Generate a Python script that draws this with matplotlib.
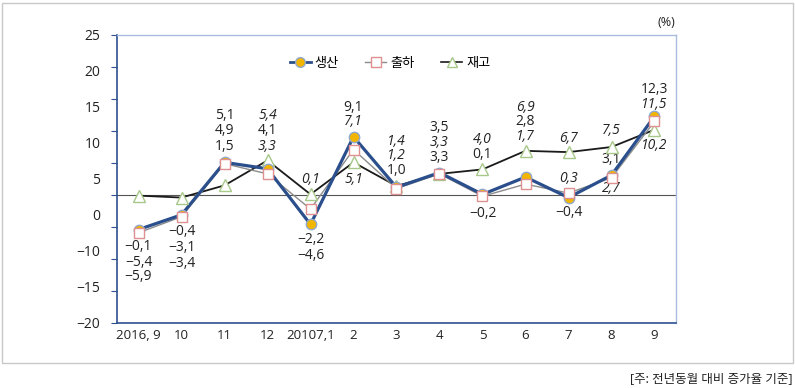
import numpy as np
import matplotlib.pyplot as plt
from matplotlib.patches import Rectangle

plt.rcParams['font.family'] = ['Open Sans', 'Noto Sans CJK KR', 'DejaVu Sans']
plt.rcParams['font.size'] = 9.5

months = ['2016, 9', '10', '11', '12', '20107,1', '2', '3', '4', '5', '6', '7', '8', '9']
series_names = ['생산', '출하', '재고']

prod = [-5.4, -3.1, 5.1, 4.1, -4.6, 9.1, 1.2, 3.5, 0.1, 2.8, -0.4, 3.1, 12.3]
ship = [-5.9, -3.4, 4.9, 3.3, -2.2, 7.1, 1.0, 3.3, -0.2, 1.7, 0.3, 2.7, 11.5]
inv = [-0.1, -0.4, 1.5, 5.4, 0.1, 5.1, 1.4, 3.3, 4.0, 6.9, 6.7, 7.5, 10.2]

# where each value label sits (data units) and whether it is italic
prod_lab_y = [-10.5, -8.2, 12.4, 10.0, -9.4, 13.7, 6.1, 10.5, 6.3, 11.5, -2.7, 5.6, 16.5]
ship_lab_y = [-12.8, -10.7, 10.0, 7.6, -6.9, 11.5, 3.75, 5.85, -2.9, 9.1, 2.6, 1.0, 14.2]
inv_lab_y = [-8.0, -5.7, 7.6, 12.4, 2.35, 2.45, 8.35, 8.2, 8.7, 13.7, 8.8, 10.0, 7.8]
prod_ital = [0, 0, 0, 0, 0, 0, 1, 0, 0, 0, 0, 0, 0]
ship_ital = [0, 0, 0, 1, 0, 1, 0, 0, 0, 1, 1, 1, 1]
inv_ital = [0, 0, 0, 1, 1, 1, 1, 1, 1, 1, 1, 1, 1]

y_labels = ['25', '20', '15', '10', '5', '0', '−10', '−15', '−20']


def fmt(v):
    return f'{v:.1f}'.replace('.', ',').replace('-', '−')


fig = plt.figure(figsize=(7.95, 3.88), dpi=100)
ax = fig.add_axes([117 / 795, 1 - 323 / 388, (676 - 117) / 795, (323 - 35) / 388])

x = np.arange(len(months))

ax.axhline(0, color='#555555', lw=0.8, zorder=1)
ax.plot(x, inv, color='#1a1a1a', lw=1.3, zorder=2)
ax.plot(x, ship, color='#8c8c8c', lw=1.0, zorder=3)
ax.plot(x, prod, color='#2b4f8c', lw=2.3, zorder=4)
ax.plot(x, inv, ls='none', marker='^', ms=8, mfc='white', mec='#a8c88a', mew=1, zorder=5)
ax.plot(x, prod, ls='none', marker='o', ms=7.5, mfc='#f2b500', mec='#8fa8cc', mew=1, zorder=6)
ax.plot(x, ship, ls='none', marker='s', ms=7.5, mfc='white', mec='#e09090', mew=1, zorder=7)

# legend proxies
ax.plot([], [], color='#2b4f8c', lw=2, marker='o', ms=7, mfc='#f2b500', mec='#8fa8cc', label=series_names[0])
ax.plot([], [], color='#8c8c8c', lw=1, marker='s', ms=7, mfc='white', mec='#e09090', label=series_names[1])
ax.plot([], [], color='#1a1a1a', lw=1.2, marker='^', ms=7, mfc='white', mec='#a8c88a', label=series_names[2])
ax.legend(loc='center', bbox_to_anchor=(390 / 795, 1 - 63 / 388), bbox_transform=fig.transFigure,
          ncol=3, frameon=False, handlelength=1.6, handletextpad=0.3, columnspacing=2.0,
          fontsize=9.5)

for vals, ys, ital in [(prod, prod_lab_y, prod_ital), (ship, ship_lab_y, ship_ital), (inv, inv_lab_y, inv_ital)]:
    for i in range(len(vals)):
        ax.text(x[i], ys[i], fmt(vals[i]), ha='center', va='center', fontsize=10,
                style='italic' if ital[i] else 'normal', color='#222222')

ax.set_xlim(-0.5, len(months) - 0.5)
ax.set_ylim(-20, 25)
ax.set_xticks(x)
ax.set_xticklabels(months, fontsize=9.5, color='#222222')
ax.tick_params(axis='x', length=0, pad=4)

# the original's tick labels don't line up with its tick marks
ax.yaxis.remove_overlapping_locs = False
ax.set_yticks(np.arange(-20, 26, 5))
ax.set_yticklabels([])
ax.tick_params(axis='y', which='major', length=4, direction='out', color='#2f4f8f')
ax.set_yticks(np.linspace(25, -20, len(y_labels)), minor=True)
ax.set_yticklabels(y_labels, minor=True, fontsize=10, color='#222222')
ax.tick_params(axis='y', which='minor', length=0, pad=12)

for s in ['left', 'bottom']:
    ax.spines[s].set_color('#2f4f8f')
    ax.spines[s].set_linewidth(1.2)
for s in ['top', 'right']:
    ax.spines[s].set_color('#a9bde0')
    ax.spines[s].set_linewidth(1.0)

fig.text(666 / 795, 1 - 22 / 388, '(%)', ha='center', va='center', fontsize=9, color='#222222')
fig.text(792 / 795, 1 - 379 / 388, '[주: 전년동월 대비 증가율 기준]', ha='right', va='center',
         fontsize=9, color='#222222')
fig.patches.append(Rectangle((2 / 795, 1 - 363 / 388), 791 / 795, 360 / 388,
                             transform=fig.transFigure, fill=False, edgecolor='#c8c8c8', lw=1))

fig.savefig('out.png', dpi=100)
